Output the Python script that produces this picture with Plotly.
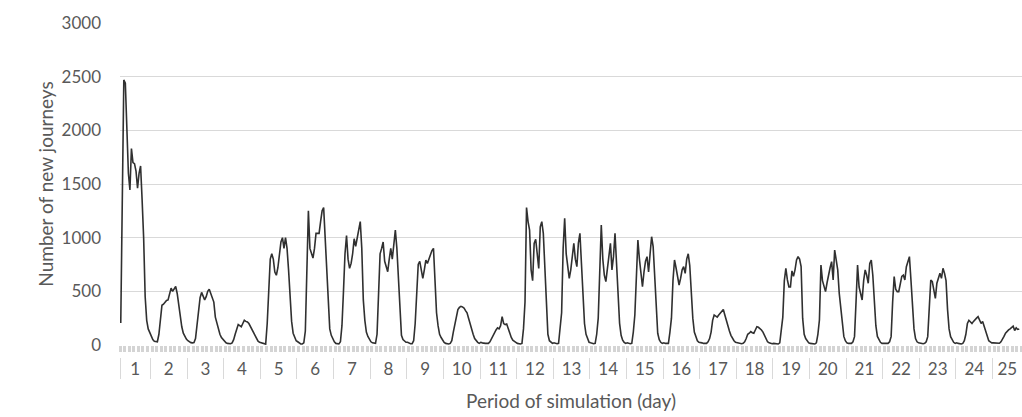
import plotly.graph_objects as go

# ---- data: hourly number of new journeys, per simulation day ----
day_labels = [str(d) for d in range(1, 26)]
first_hour_day1 = 4  # simulation starts at hour 4 of day 1

day01 = [205, 1300, 2470, 2440, 2000, 1600, 1445, 1830, 1700, 1690, 1620, 1460, 1600, 1668, 1350, 1000, 450, 230, 150, 110]
day02 = [70, 50, 35, 30, 30, 100, 270, 370, 380, 400, 415, 420, 470, 530, 500, 520, 545, 480, 360, 230, 170, 110, 80, 55]
day03 = [40, 30, 22, 20, 22, 60, 180, 330, 440, 490, 460, 420, 450, 500, 520, 480, 440, 400, 260, 200, 140, 100, 70, 50]
day04 = [30, 20, 15, 12, 12, 20, 50, 100, 150, 190, 180, 170, 200, 230, 220, 215, 200, 170, 140, 110, 90, 60, 35, 25]
day05 = [20, 12, 10, 8, 200, 520, 800, 850, 800, 680, 650, 720, 850, 960, 1000, 900, 1000, 900, 700, 450, 220, 110, 70, 40]
day06 = [30, 15, 10, 10, 20, 130, 600, 1250, 900, 850, 810, 900, 1040, 1040, 1040, 1150, 1250, 1280, 1000, 600, 300, 150, 90, 50]
day07 = [30, 15, 10, 10, 30, 180, 500, 850, 1020, 800, 714, 760, 850, 990, 920, 1000, 1100, 1150, 900, 420, 230, 120, 80, 50]
day08 = [30, 20, 15, 15, 100, 550, 850, 900, 960, 780, 720, 683, 800, 900, 800, 940, 1070, 900, 600, 250, 90, 50, 35, 25]
day09 = [25, 15, 12, 12, 40, 200, 550, 750, 780, 680, 621, 700, 790, 760, 800, 860, 880, 900, 650, 300, 180, 100, 70, 40]
day10 = [25, 15, 12, 10, 15, 40, 120, 200, 280, 330, 350, 360, 355, 345, 320, 300, 250, 190, 140, 100, 60, 40, 25, 15]
day11 = [25, 20, 15, 15, 15, 15, 30, 60, 90, 120, 140, 160, 150, 180, 264, 200, 190, 196, 150, 100, 70, 45, 30, 25]
day12 = [15, 12, 10, 15, 150, 400, 1280, 1150, 1071, 700, 600, 947, 985, 850, 714, 1100, 1149, 1040, 700, 300, 100, 40, 25, 15]
day13 = [20, 15, 12, 15, 150, 300, 900, 1180, 850, 700, 621, 700, 850, 947, 800, 730, 950, 1040, 760, 450, 200, 100, 50, 25]
day14 = [20, 15, 12, 15, 100, 250, 700, 1118, 800, 650, 590, 720, 850, 947, 700, 823, 1040, 800, 450, 202, 90, 45, 25, 15]
day15 = [20, 15, 12, 15, 120, 280, 650, 978, 800, 650, 543, 680, 780, 823, 680, 850, 1009, 916, 600, 300, 109, 50, 25, 15]
day16 = [20, 15, 12, 15, 120, 250, 600, 792, 720, 620, 559, 620, 700, 730, 668, 800, 850, 740, 420, 250, 120, 70, 40, 25]
day17 = [25, 20, 15, 12, 15, 30, 60, 120, 230, 280, 270, 260, 280, 300, 310, 330, 280, 220, 170, 130, 90, 60, 40, 25]
day18 = [20, 15, 12, 12, 15, 30, 60, 100, 110, 125, 115, 110, 140, 170, 165, 155, 140, 120, 90, 50, 30, 20, 15, 12]
day19 = [15, 12, 10, 9, 20, 120, 260, 600, 714, 606, 540, 540, 690, 640, 700, 792, 823, 800, 730, 250, 100, 60, 35, 20]
day20 = [15, 12, 10, 9, 20, 100, 233, 745, 600, 540, 497, 580, 668, 720, 777, 606, 885, 800, 700, 481, 330, 200, 80, 40]
day21 = [20, 15, 12, 15, 30, 78, 400, 745, 540, 470, 419, 600, 700, 650, 575, 760, 792, 650, 357, 180, 80, 45, 25, 15]
day22 = [15, 12, 12, 15, 30, 78, 400, 637, 520, 497, 497, 580, 640, 652, 606, 730, 790, 823, 606, 350, 150, 60, 30, 20]
day23 = [15, 12, 12, 15, 30, 78, 350, 606, 590, 500, 435, 575, 620, 668, 621, 714, 668, 600, 330, 150, 78, 45, 25, 15]
day24 = [20, 15, 12, 10, 15, 40, 100, 200, 230, 210, 200, 220, 240, 250, 264, 230, 200, 220, 180, 120, 80, 40, 30, 20]
day25 = [20, 18, 15, 15, 16, 30, 50, 80, 110, 130, 140, 150, 165, 175, 135, 160, 145, 150]

days = [day01, day02, day03, day04, day05, day06, day07, day08, day09, day10,
        day11, day12, day13, day14, day15, day16, day17, day18, day19, day20,
        day21, day22, day23, day24, day25]

# build hourly series (x in hours since day-1 midnight, point at mid-hour)
hours, values = [], []
for d, vals in enumerate(days):
    start = first_hour_day1 if d == 0 else 0
    for i, v in enumerate(vals):
        hours.append(24 * d + start + i + 0.5)
        values.append(v)

x_start = first_hour_day1
x_end = hours[-1] + 0.5 + 1.3
day_bounds = [x_start] + [24 * d for d in range(1, 25)]
day_centers = [(max(24 * d, x_start) + min(24 * (d + 1), x_end)) / 2 for d in range(25)]

font_family = "Lato, 'Open Sans', sans-serif"
txt = "#595959"
grid = "#d9d9d9"

fig = go.Figure()
fig.add_trace(go.Scatter(x=hours, y=values, mode="lines",
                         line=dict(color="#303030", width=1.6),
                         showlegend=False, hoverinfo="skip"))
# carrier trace for the day-label axis
fig.add_trace(go.Scatter(x=[x_start, x_end], y=[None, None], xaxis="x2",
                         mode="lines", showlegend=False, hoverinfo="skip"))

y0 = 0.18274
fig.update_layout(
    width=1022, height=417,
    margin=dict(l=120, r=0, t=23, b=0),
    paper_bgcolor="white", plot_bgcolor="white",
    font=dict(family=font_family, color=txt),
    xaxis=dict(range=[x_start, x_end], showgrid=False, zeroline=False,
               showline=False, showticklabels=False, automargin=False,
               tickmode="linear", tick0=x_start, dtick=3,
               ticks="outside", ticklen=6, tickwidth=3.2, tickcolor="#d4d4d4"),
    xaxis2=dict(range=[x_start, x_end], overlaying="x", anchor="free",
                position=0.152, showgrid=False, zeroline=False, showline=False,
                automargin=False,
                tickmode="array", tickvals=day_centers, ticktext=day_labels,
                ticks="", tickfont=dict(size=17, color=txt),
                minor=dict(tickmode="array", tickvals=day_bounds, ticks="outside",
                           ticklen=21, tickwidth=1, tickcolor="#d9d9d9"),
                title=dict(text="Period of simulation (day)",
                           font=dict(size=19, color=txt), standoff=16)),
    yaxis=dict(domain=[y0, 1], range=[0, 3000], tickmode="linear", dtick=500,
               showgrid=True, gridcolor=grid, gridwidth=1, zeroline=False,
               showline=False, ticks="", ticklabelstandoff=18, automargin=False,
               tickfont=dict(size=17, color=txt),
               title=dict(text="Number of new journeys",
                          font=dict(size=19, color=txt), standoff=2)),
)

fig.write_html("out.html", config={"displayModeBar": False},
               post_script="document.body.style.margin='0px';document.body.style.overflow='hidden';")
